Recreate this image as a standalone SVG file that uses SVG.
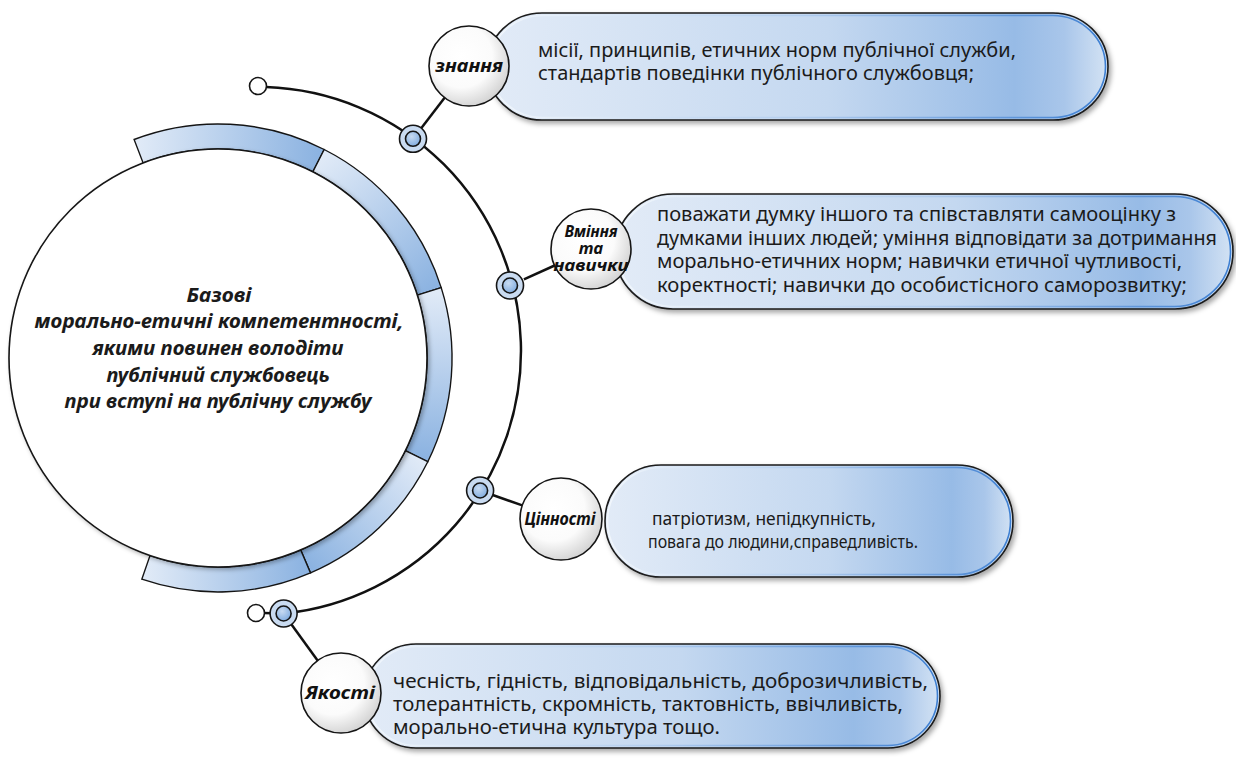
<svg xmlns="http://www.w3.org/2000/svg" width="1236" height="758" viewBox="0 0 1236 758">
  <defs>
    <style>
      .body { font-family: "Noto Sans", "Open Sans", sans-serif; font-size: 19px; fill: #1b1b1b; }
      .small { font-size: 18px; }
      .lbl { font-family: "Noto Sans", "Open Sans", sans-serif; font-size: 18px; font-weight: 700; font-style: italic; fill: #111; text-anchor: middle; }
      .lbl.tight { font-size: 16.5px; }
      .hub { font-family: "Noto Sans", "Open Sans", sans-serif; font-size: 20px; font-weight: 700; font-style: italic; fill: #1b1b1b; text-anchor: middle; }
      .wire { fill: none; stroke: #111; stroke-width: 2.5; }
      .pill { fill: url(#pillFill); stroke: #1a1a1a; stroke-width: 1.6; }
      .pillIn { fill: none; stroke: url(#pillEdge); stroke-width: 1.6; }
      .node { fill: url(#nodeFill); stroke: #151515; stroke-width: 1.6; }
      .ringO { fill: #c9dbf1; stroke: #151515; stroke-width: 1.6; }
      .ringI { fill: url(#ringFill); stroke: #151515; stroke-width: 1.6; }
      .dot { fill: #fff; stroke: #151515; stroke-width: 1.6; }
      .seg { stroke: #151515; stroke-width: 1.4; }
    </style>
    <linearGradient id="pillFill" x1="0" y1="0" x2="1" y2="0">
      <stop offset="0" stop-color="#e2ebf7"/>
      <stop offset="0.55" stop-color="#c4d8f0"/>
      <stop offset="0.85" stop-color="#97bbe6"/>
      <stop offset="0.93" stop-color="#a9c6ea"/>
      <stop offset="1" stop-color="#d4e3f4"/>
    </linearGradient>
    <linearGradient id="pillEdge" x1="0" y1="0" x2="1" y2="0">
      <stop offset="0" stop-color="#f2f7fc"/>
      <stop offset="0.5" stop-color="#b2cdee"/>
      <stop offset="1" stop-color="#3d7fd2"/>
    </linearGradient>
    <radialGradient id="nodeFill" cx="0.4" cy="0.38" r="0.65">
      <stop offset="0" stop-color="#ffffff"/>
      <stop offset="0.6" stop-color="#fbfbfb"/>
      <stop offset="1" stop-color="#d3d3d3"/>
    </radialGradient>
    <radialGradient id="ringFill" cx="0.4" cy="0.35" r="0.7">
      <stop offset="0" stop-color="#c8dbf2"/>
      <stop offset="1" stop-color="#7eaade"/>
    </radialGradient>
    <linearGradient id="s1" gradientUnits="userSpaceOnUse" x1="138" y1="151" x2="318" y2="161">
      <stop offset="0" stop-color="#e0eaf7"/><stop offset="1" stop-color="#8cb3e1"/>
    </linearGradient>
    <linearGradient id="s2" gradientUnits="userSpaceOnUse" x1="318" y1="161" x2="429" y2="291">
      <stop offset="0" stop-color="#e0eaf7"/><stop offset="1" stop-color="#8cb3e1"/>
    </linearGradient>
    <linearGradient id="s3" gradientUnits="userSpaceOnUse" x1="429" y1="291" x2="417" y2="456">
      <stop offset="0" stop-color="#e0eaf7"/><stop offset="1" stop-color="#8cb3e1"/>
    </linearGradient>
    <linearGradient id="s4" gradientUnits="userSpaceOnUse" x1="417" y1="456" x2="306" y2="561">
      <stop offset="0" stop-color="#e0eaf7"/><stop offset="1" stop-color="#8cb3e1"/>
    </linearGradient>
    <linearGradient id="s5" gradientUnits="userSpaceOnUse" x1="146" y1="567" x2="306" y2="561">
      <stop offset="0" stop-color="#e0eaf7"/><stop offset="1" stop-color="#8cb3e1"/>
    </linearGradient>
    <filter id="shadow" x="-10%" y="-20%" width="125%" height="150%">
      <feDropShadow dx="2.5" dy="3" stdDeviation="2.5" flood-color="#000" flood-opacity="0.35"/>
    </filter>
    <filter id="soft" x="-10%" y="-10%" width="125%" height="125%">
      <feDropShadow dx="2" dy="2" stdDeviation="2" flood-color="#000" flood-opacity="0.3"/>
    </filter>
  </defs>

  <rect width="1236" height="758" fill="#ffffff"/>

  <!-- segmented band around the hub -->
  <g id="band">
    <path class="seg" fill="url(#s1)" d="M134.1 139.5 A234 234 0 0 1 324.2 149.5 L312.9 171.8 A209 209 0 0 0 143.1 162.9 Z"/>
    <path class="seg" fill="url(#s2)" d="M324.2 149.5 A234 234 0 0 1 441.2 287.6 L417.3 295.2 A209 209 0 0 0 312.9 171.8 Z"/>
    <path class="seg" fill="url(#s3)" d="M441.2 287.6 A234 234 0 0 1 427.8 461.7 L405.4 450.6 A209 209 0 0 0 417.3 295.2 Z"/>
    <path class="seg" fill="url(#s4)" d="M427.8 461.7 A234 234 0 0 1 310.5 572.9 L300.7 550.0 A209 209 0 0 0 405.4 450.6 Z"/>
    <path class="seg" fill="url(#s5)" d="M310.5 572.9 A234 234 0 0 1 141.8 579.2 L150.0 555.6 A209 209 0 0 0 300.7 550.0 Z"/>
  </g>

  <!-- hub -->
  <g id="hub">
    <circle cx="218" cy="358" r="209" fill="#ffffff" stroke="#151515" stroke-width="1.6" filter="url(#soft)"/>
    <text class="hub" x="219" y="302" textLength="65" lengthAdjust="spacingAndGlyphs">Базові</text>
    <text class="hub" x="219" y="328" textLength="369" lengthAdjust="spacingAndGlyphs">морально-етичні компетентності,</text>
    <text class="hub" x="218" y="355" textLength="251" lengthAdjust="spacingAndGlyphs">якими повинен володіти</text>
    <text class="hub" x="218" y="382" textLength="223" lengthAdjust="spacingAndGlyphs">публічний службовець</text>
    <text class="hub" x="218" y="408" textLength="307" lengthAdjust="spacingAndGlyphs">при вступі на публічну службу</text>
  </g>

  <!-- connectors -->
  <g id="connectors">
    <path class="wire" d="M266 87 A264 264 0 0 1 283.6 613.5"/>
    <line class="wire" x1="421.2" y1="128.3" x2="444.6" y2="97.8"/>
    <line class="wire" x1="523.9" y1="279.3" x2="554.6" y2="265.5"/>
    <line class="wire" x1="492.7" y1="495" x2="522.3" y2="505.4"/>
    <line class="wire" x1="291.5" y1="624.4" x2="317.6" y2="660.6"/>
    <line class="wire" x1="264" y1="613" x2="272" y2="613.3"/>
    <circle class="dot" cx="258" cy="86" r="8.5"/>
    <circle class="dot" cx="256" cy="613" r="8.5"/>
    <g>
      <circle class="ringO" cx="413" cy="138.8" r="13.5"/>
      <circle class="ringI" cx="413" cy="138.8" r="7.5"/>
      <circle class="ringO" cx="510" cy="285.5" r="13.5"/>
      <circle class="ringI" cx="510" cy="285.5" r="7.5"/>
      <circle class="ringO" cx="480.1" cy="490.5" r="13.5"/>
      <circle class="ringI" cx="480.1" cy="490.5" r="7.5"/>
      <circle class="ringO" cx="283.6" cy="613.5" r="13.5"/>
      <circle class="ringI" cx="283.6" cy="613.5" r="7.5"/>
    </g>
  </g>

  <!-- знання -->
  <g id="knowledge">
    <rect class="pill" x="487" y="13" width="621" height="107" rx="55" ry="53.5" filter="url(#shadow)"/>
    <rect class="pillIn" x="489.5" y="15.5" width="616" height="102" rx="53" ry="51"/>
    <circle class="node" cx="469" cy="66" r="40"/>
    <text class="lbl" x="469" y="72" textLength="68" lengthAdjust="spacingAndGlyphs">знання</text>
    <text class="body" x="538" y="57" textLength="478" lengthAdjust="spacingAndGlyphs">місії, принципів, етичних норм публічної служби,</text>
    <text class="body" x="538" y="80" textLength="436" lengthAdjust="spacingAndGlyphs">стандартів поведінки публічного службовця;</text>
  </g>

  <!-- Вміння та навички -->
  <g id="skills">
    <rect class="pill" x="615" y="194" width="618" height="115" rx="58" ry="57.5" filter="url(#shadow)"/>
    <rect class="pillIn" x="617.5" y="196.5" width="613" height="110" rx="56" ry="55"/>
    <circle class="node" cx="591" cy="249" r="40"/>
    <text class="lbl tight" x="591" y="237" textLength="53" lengthAdjust="spacingAndGlyphs">Вміння</text>
    <text class="lbl tight" x="591" y="254">та</text>
    <text class="lbl tight" x="591" y="271" textLength="75" lengthAdjust="spacingAndGlyphs">навички</text>
    <text class="body" x="657" y="221" textLength="519" lengthAdjust="spacingAndGlyphs">поважати думку іншого та співставляти самооцінку з</text>
    <text class="body" x="657" y="245" textLength="560" lengthAdjust="spacingAndGlyphs">думками інших людей; уміння відповідати за дотримання</text>
    <text class="body" x="657" y="268" textLength="525" lengthAdjust="spacingAndGlyphs">морально-етичних норм; навички етичної чутливості,</text>
    <text class="body" x="657" y="292" textLength="530" lengthAdjust="spacingAndGlyphs">коректності; навички до особистісного саморозвитку;</text>
  </g>

  <!-- Цінності -->
  <g id="values">
    <rect class="pill" x="605" y="465" width="408" height="112" rx="56" ry="56" filter="url(#shadow)"/>
    <rect class="pillIn" x="607.5" y="467.5" width="403" height="107" rx="54" ry="53.5"/>
    <circle class="node" cx="561" cy="519" r="41"/>
    <text class="lbl" x="560" y="525" textLength="71" lengthAdjust="spacingAndGlyphs">Цінності</text>
    <text class="body small" x="652" y="525" textLength="224" lengthAdjust="spacingAndGlyphs">патріотизм, непідкупність,</text>
    <text class="body small" x="648" y="548" textLength="270" lengthAdjust="spacingAndGlyphs">повага до людини,справедливість.</text>
  </g>

  <!-- Якості -->
  <g id="qualities">
    <rect class="pill" x="364" y="644" width="576" height="104" rx="52" ry="52" filter="url(#shadow)"/>
    <rect class="pillIn" x="366.5" y="646.5" width="571" height="99" rx="50" ry="49.5"/>
    <circle class="node" cx="341" cy="693" r="40"/>
    <text class="lbl" x="340" y="699" textLength="70" lengthAdjust="spacingAndGlyphs">Якості</text>
    <text class="body" x="393" y="688" textLength="535" lengthAdjust="spacingAndGlyphs">чесність, гідність, відповідальність, доброзичливість,</text>
    <text class="body" x="393" y="711" textLength="510" lengthAdjust="spacingAndGlyphs">толерантність, скромність, тактовність, ввічливість,</text>
    <text class="body" x="393" y="734" textLength="327" lengthAdjust="spacingAndGlyphs">морально-етична культура тощо.</text>
  </g>
</svg>
